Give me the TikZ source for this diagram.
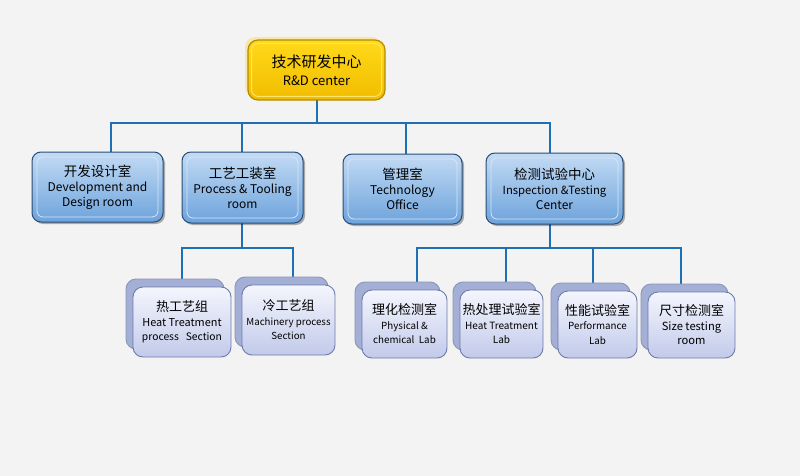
\documentclass[tikz,border=0pt]{standalone}
\usepackage{fontspec}
\setmainfont{Noto Sans CJK SC}
\newfontfamily\cjk{Noto Sans CJK SC}
\usetikzlibrary{shadows,backgrounds}

\definecolor{paper}{HTML}{F3F3F3}
\definecolor{wire}{HTML}{1F6FB5}
\definecolor{headtop}{HTML}{FFDA1A}
\definecolor{headmid}{HTML}{FFCE00}
\definecolor{headbot}{HTML}{F2BC00}
\definecolor{headrim}{HTML}{B48C00}
\definecolor{headin}{HTML}{FFE36A}
\definecolor{headglow}{HTML}{F8E6A8}
\definecolor{depttop}{HTML}{C3DBF4}
\definecolor{deptmid}{HTML}{8EBAE7}
\definecolor{deptbot}{HTML}{6DA3DC}
\definecolor{deptrim}{HTML}{284C78}
\definecolor{deptin}{HTML}{D6E6F8}
\definecolor{labtop}{HTML}{F4F6FD}
\definecolor{labbot}{HTML}{C2CAEA}
\definecolor{labrim}{HTML}{6E7AAE}
\definecolor{labback}{HTML}{A4AFD6}

\tikzset{
  conn/.style={draw=wire, line width=1.7pt, line cap=rect},
  headbox/.style={rounded corners=10pt, draw=headrim, line width=1.2pt,
    top color=headtop, middle color=headmid, bottom color=headbot,
    align=center, inner sep=0pt, text=black,
    font=\fontsize{13}{18}\selectfont,
    drop shadow={shadow xshift=-3pt, shadow yshift=3pt, fill=headglow, opacity=.9},
    path picture={\draw[headin, line width=1pt, rounded corners=7pt]
      ([shift={(3.5pt,-3.5pt)}]path picture bounding box.north west) rectangle
      ([shift={(-3.5pt,3.5pt)}]path picture bounding box.south east);}},
  deptbox/.style={rounded corners=9pt, draw=deptrim, line width=1pt,
    top color=depttop, middle color=deptmid, bottom color=deptbot,
    align=center, inner sep=0pt, text=black,
    font=\fontsize{12}{15}\selectfont,
    drop shadow={shadow xshift=2pt, shadow yshift=-2pt, fill=black, opacity=.3},
    path picture={\draw[deptin, line width=.8pt, rounded corners=6pt]
      ([shift={(5pt,-5pt)}]path picture bounding box.north west) rectangle
      ([shift={(-5pt,5pt)}]path picture bounding box.south east);}},
  labbox/.style={rounded corners=10pt, draw=labrim, line width=.9pt,
    top color=labtop, bottom color=labbot,
    align=center, inner sep=0pt, text=black,
    font=\fontsize{10.9}{14.5}\selectfont,
    copy shadow={shadow xshift=-7pt, shadow yshift=8pt, fill=labback, draw=labback!85!black}}
}

\begin{document}
\begin{tikzpicture}[x=1pt, y=-1pt]
\useasboundingbox (0,0) rectangle (800,476);

% centre
\node[headbox, minimum width=137pt, minimum height=60pt] (head) at (316.5,70)
  {{\cjk\fontsize{15}{18}\selectfont 技术研发中心}\\R\&D center};

% departments
\node[deptbox, minimum width=131pt, minimum height=70pt] (dev) at (97.5,187)
  {{\cjk\fontsize{13.5}{15}\selectfont 开发设计室}\\Development and\\Design room};
\node[deptbox, minimum width=121pt, minimum height=71pt] (proc) at (242.5,187.5)
  {{\cjk\fontsize{13.5}{15}\selectfont 工艺工装室}\\Process \& Tooling\\room};
\node[deptbox, minimum width=119pt, minimum height=70pt] (mgmt) at (402.5,189)
  {{\cjk\fontsize{13.5}{15}\selectfont 管理室}\\Technology\\Office};
\node[deptbox, minimum width=137pt, minimum height=71pt] (test) at (554.5,188.5)
  {{\cjk\fontsize{13.5}{15}\selectfont 检测试验中心}\\{\fontsize{11.3}{15}\selectfont Inspection \&Testing}\\Center};

% sections and labs
\node[labbox, minimum width=98pt, minimum height=70pt] (heat) at (182,322)
  {{\cjk\fontsize{13}{15}\selectfont 热工艺组}\\Heat Treatment\\{\fontsize{10.3}{13}\selectfont process\ \ \ Section}};
\node[labbox, minimum width=93pt, minimum height=70pt] (cold) at (288.5,320)
  {{\cjk\fontsize{13}{15}\selectfont 冷工艺组}\\{\fontsize{9.7}{13}\selectfont Machinery process}\\{\fontsize{9.7}{13}\selectfont Section}};
\node[labbox, minimum width=85pt, minimum height=68pt] (phys) at (404.5,324)
  {{\cjk\fontsize{13}{15}\selectfont 理化检测室}\\{\fontsize{9.8}{13}\selectfont Physical \&}\\{\fontsize{9.8}{13}\selectfont chemical\ \ Lab}};
\node[labbox, minimum width=83pt, minimum height=68pt] (heatlab) at (501.5,324)
  {{\cjk\fontsize{13}{15}\selectfont 热处理试验室}\\{\fontsize{10}{13}\selectfont Heat Treatment}\\{\fontsize{10}{13}\selectfont Lab}};
\node[labbox, minimum width=79pt, minimum height=67pt] (perf) at (597.5,324.5)
  {{\cjk\fontsize{13}{15}\selectfont 性能试验室}\\{\fontsize{9.8}{13}\selectfont Performance}\\{\fontsize{9.8}{13}\selectfont Lab}};
\node[labbox, minimum width=87pt, minimum height=66pt] (size) at (691.5,325)
  {{\cjk\fontsize{13}{15}\selectfont 尺寸检测室}\\{\fontsize{11.2}{15}\selectfont Size testing}\\{\fontsize{11.2}{15}\selectfont room}};

% wires under the boxes
\begin{scope}[on background layer]
\fill[paper] (0,0) rectangle (800,476);
\foreach \n/\x in {dev/111, proc/242, mgmt/406, test/550}{
  \coordinate (tap-\n) at (\x,123);
  \draw[conn] (tap-\n) -- (tap-\n |- \n.north);
}
\coordinate (tap-head) at (317,123);
\draw[conn] (tap-dev) -- (tap-test);
\draw[conn] (tap-head |- head.south) -- (tap-head);
\foreach \n/\x in {heat/182, cold/293}{
  \coordinate (tap-\n) at (\x,248);
  \draw[conn] (tap-\n) -- (tap-\n |- \n.north);
}
\draw[conn] (tap-heat) -- (tap-cold);
\draw[conn] (tap-proc |- proc.south) -- (tap-proc |- tap-heat);
\foreach \n/\x in {phys/417, heatlab/506, perf/593, size/681}{
  \coordinate (tap-\n) at (\x,248);
  \draw[conn] (tap-\n) -- (tap-\n |- \n.north);
}
\draw[conn] (tap-phys) -- (tap-size);
\draw[conn] (tap-test |- test.south) -- (tap-test |- tap-phys);
\end{scope}
\end{tikzpicture}
\end{document}
